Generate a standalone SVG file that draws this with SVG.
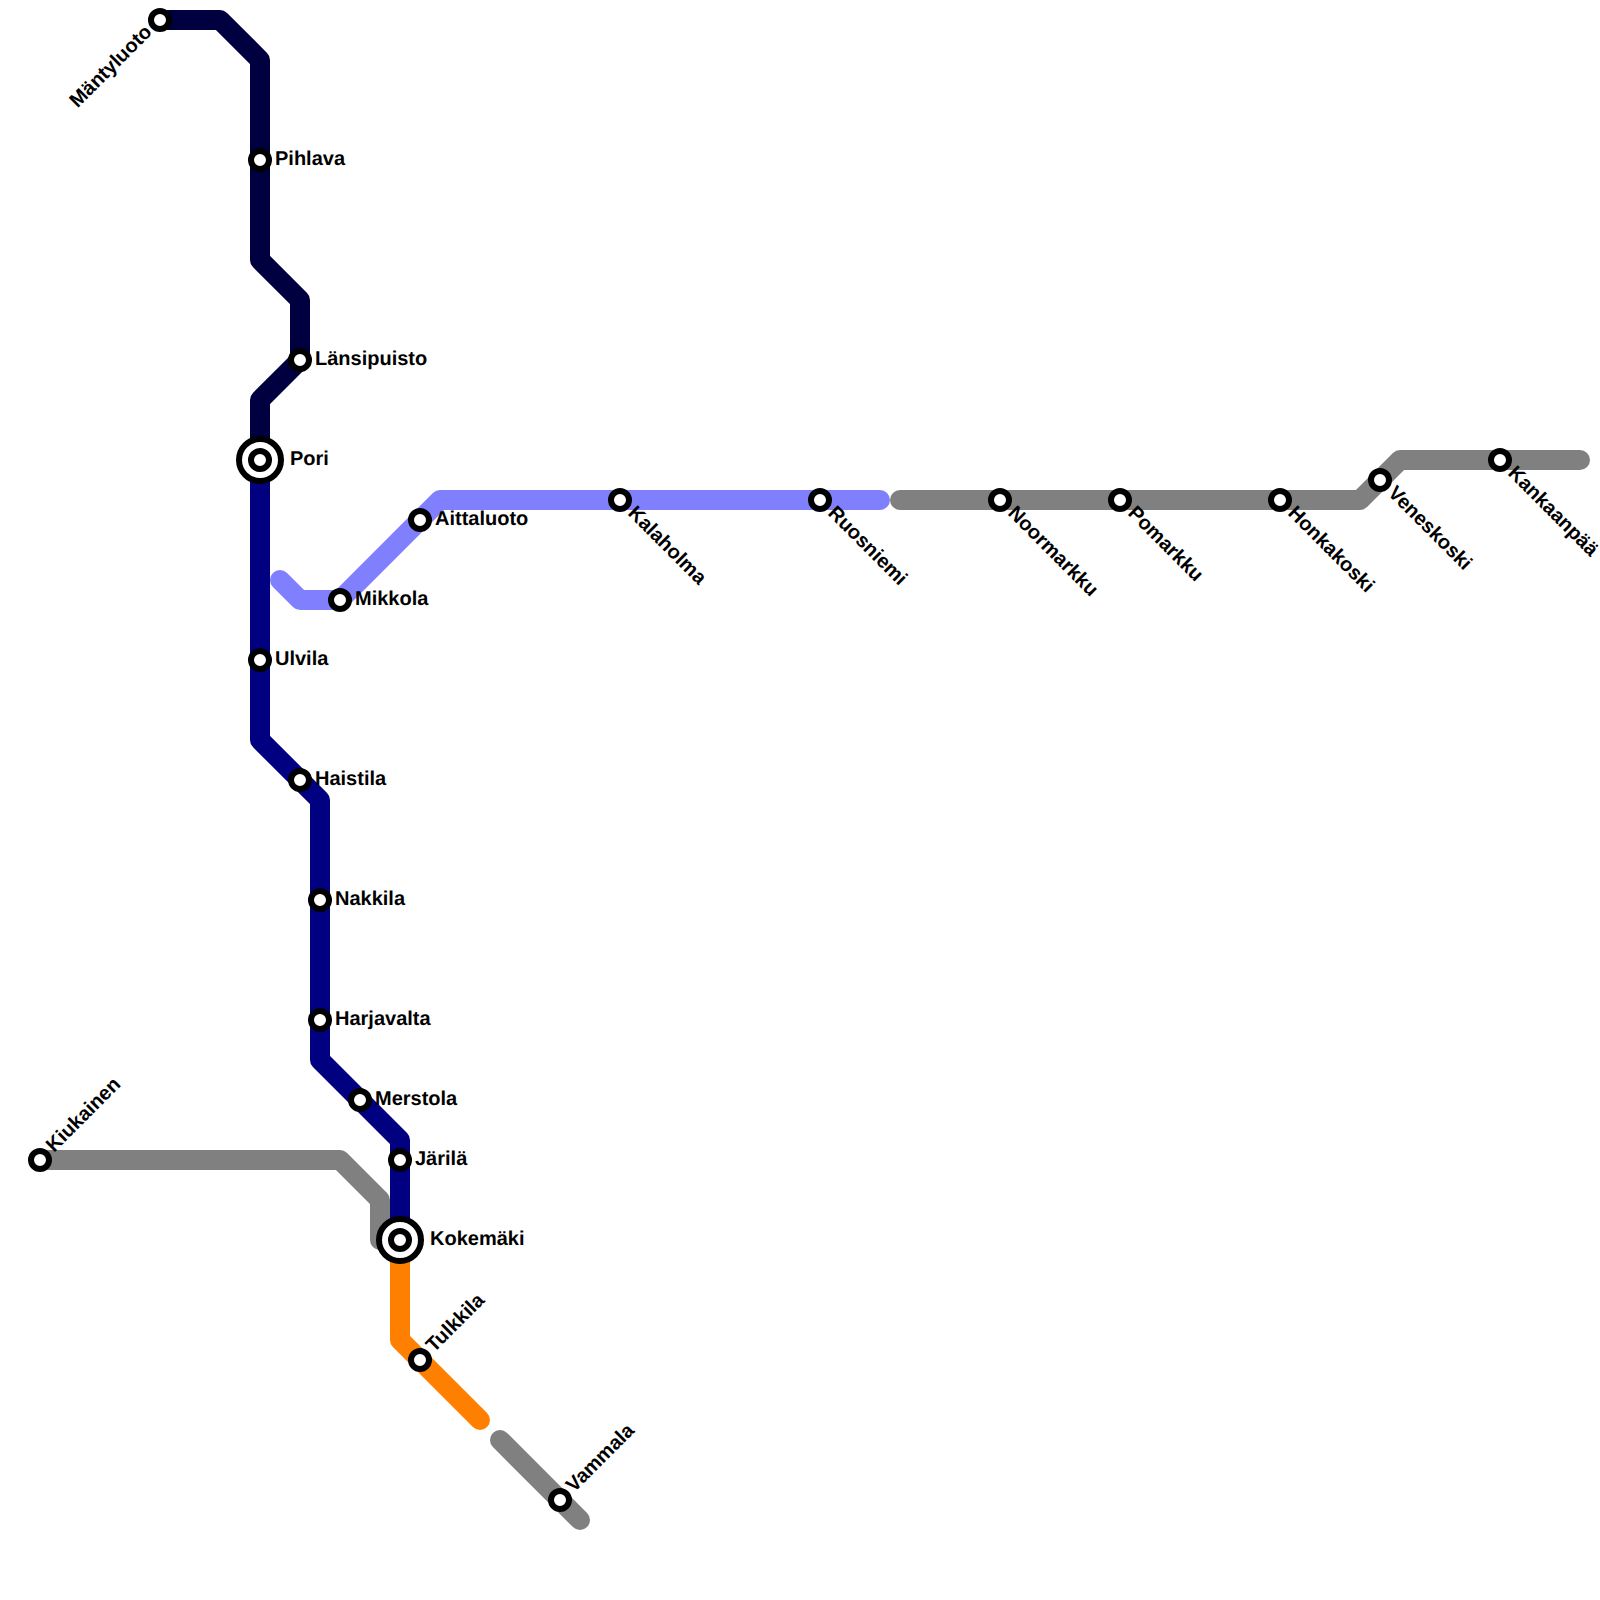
<svg xmlns="http://www.w3.org/2000/svg" width="1600" height="1600" viewBox="0 0 1600 1600">
<style>
.l{fill:none;stroke-width:20;stroke-linejoin:round;stroke-linecap:round}
.s{fill:#fff;stroke:#000;stroke-width:6}
.o{fill:#fff;stroke:#000;stroke-width:6}
text{font-family:"Liberation Sans",Arial,sans-serif;font-weight:700;font-size:20px;fill:#000;text-rendering:geometricPrecision}
.e{text-anchor:end}
</style>
<rect width="1600" height="1600" fill="#fff"/>
<g id="connectors">
<path class="l" stroke="#808080" d="M40 1160H340L380 1200V1240H400"/>
<path class="l" stroke="#808080" d="M900 500H1360L1400 460H1580"/>
<path class="l" stroke="#808080" d="M500 1440L580 1520"/>
<path class="l" stroke="#000040" style="stroke-linecap:butt" d="M160 20H220L260 60V260L300 300V360L260 400V460"/>
<path class="l" stroke="#000080" style="stroke-linecap:butt" d="M260 460V740L320 800V1060L400 1140V1240"/>
<path class="l" stroke="#8080ff" d="M280 580L300 600H340L440 500H880"/>
<path class="l" stroke="#ff8000" d="M400 1240V1340L480 1420"/>
</g>
<g id="pori"><circle class="o" cx="260" cy="460" r="21"/><circle class="s" cx="260" cy="460" r="9"/><text x="290" y="465">Pori</text></g>
<g id="kokemaki"><circle class="o" cx="400" cy="1240" r="21"/><circle class="s" cx="400" cy="1240" r="9"/><text x="430" y="1245">Kokemäki</text></g>
<g id="mantyluoto"><circle class="s" cx="160" cy="20" r="9"/><text class="e" transform="translate(153 33) rotate(-45)">Mäntyluoto</text></g>
<g id="pihlava"><circle class="s" cx="260" cy="160" r="9"/><text x="275" y="165">Pihlava</text></g>
<g id="lansipuisto"><circle class="s" cx="300" cy="360" r="9"/><text x="315" y="365">Länsipuisto</text></g>
<g id="aittaluoto"><circle class="s" cx="420" cy="520" r="9"/><text x="435" y="525">Aittaluoto</text></g>
<g id="mikkola"><circle class="s" cx="340" cy="600" r="9"/><text x="355" y="605">Mikkola</text></g>
<g id="ulvila"><circle class="s" cx="260" cy="660" r="9"/><text x="275" y="665">Ulvila</text></g>
<g id="haistila"><circle class="s" cx="300" cy="780" r="9"/><text x="315" y="785">Haistila</text></g>
<g id="nakkila"><circle class="s" cx="320" cy="900" r="9"/><text x="335" y="905">Nakkila</text></g>
<g id="harjavalta"><circle class="s" cx="320" cy="1020" r="9"/><text x="335" y="1025">Harjavalta</text></g>
<g id="merstola"><circle class="s" cx="360" cy="1100" r="9"/><text x="375" y="1105">Merstola</text></g>
<g id="jarila"><circle class="s" cx="400" cy="1160" r="9"/><text x="415" y="1165">Järilä</text></g>
<g id="tulkkila"><circle class="s" cx="420" cy="1360" r="9"/><text transform="translate(434 1353) rotate(-45)">Tulkkila</text></g>
<g id="vammala"><circle class="s" cx="560" cy="1500" r="9"/><text transform="translate(574 1493) rotate(-45)">Vammala</text></g>
<g id="kiukainen"><circle class="s" cx="40" cy="1160" r="9"/><text transform="translate(54 1153) rotate(-45)">Kiukainen</text></g>
<g id="kalaholma"><circle class="s" cx="620" cy="500" r="9"/><text transform="translate(627 514) rotate(45)">Kalaholma</text></g>
<g id="ruosniemi"><circle class="s" cx="820" cy="500" r="9"/><text transform="translate(827 514) rotate(45)">Ruosniemi</text></g>
<g id="noormarkku"><circle class="s" cx="1000" cy="500" r="9"/><text transform="translate(1007 514) rotate(45)">Noormarkku</text></g>
<g id="pomarkku"><circle class="s" cx="1120" cy="500" r="9"/><text transform="translate(1127 514) rotate(45)">Pomarkku</text></g>
<g id="honkakoski"><circle class="s" cx="1280" cy="500" r="9"/><text transform="translate(1287 514) rotate(45)">Honkakoski</text></g>
<g id="veneskoski"><circle class="s" cx="1380" cy="480" r="9"/><text transform="translate(1387 494) rotate(45)">Veneskoski</text></g>
<g id="kankaanpaa"><circle class="s" cx="1500" cy="460" r="9"/><text transform="translate(1507 474) rotate(45)">Kankaanpää</text></g>
</svg>
